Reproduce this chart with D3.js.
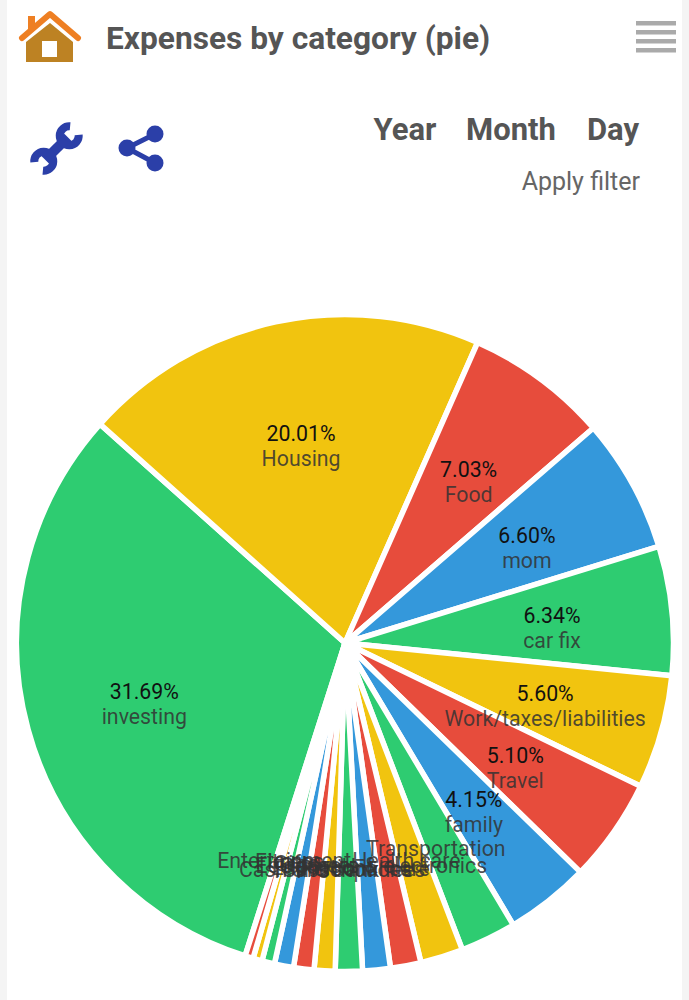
<!DOCTYPE html>
<html>
<head>
<meta charset="utf-8">
<script src="https://cdn.jsdelivr.net/npm/d3@7"></script>
<style>
  html, body { margin: 0; padding: 0; background: #fff; }
  text { font-family: Roboto, sans-serif; }
</style>
</head>
<body>
<div id="chart"></div>
<script>
// Slices, clockwise
const categories = ['investing', 'Housing', 'Food', 'mom', 'car fix', 'Work/taxes/liabilities', 'Travel', 'family',
  'Transportation', 'Health care', 'Gadgets & electronics', 'Personal care', 'Subscriptions', 'Cash and bank fees',
  'Education', 'Equipment', 'Gifts', 'Fitness', 'Entertainment'];
const percents = [31.69, 20.01, 7.03, 6.60, 6.34, 5.60, 5.10, 4.15,
  2.75, 2.10, 1.50, 1.36, 1.33, 1.03, 1.00, 0.94, 0.62, 0.45, 0.40];
const colors = ['#2ecc71', '#f1c40f', '#e74c3c', '#3498db'];
const filters = ['Year', 'Month', 'Day'];

const width = 689;
const height = 1000;
const cx = 345;
const cy = 643;
const radius = 328.5;
const labelRadius = 208;
const minPercentShown = 4; // small slices only get their name

const svg = d3.select('#chart').append('svg')
  .attr('width', width)
  .attr('height', height)
  .style('display', 'block');

// page edges
svg.append('rect').attr('width', 7).attr('height', height).attr('fill', '#f4f4f4');
svg.append('rect').attr('x', 682).attr('width', 7).attr('height', height).attr('fill', '#f4f4f4');

// home icon
const home = svg.append('g');
home.append('rect').attr('x', 28).attr('y', 16).attr('width', 7).attr('height', 14).attr('fill', '#ee7f23');
home.append('path').attr('d', 'M26,62V42L50,23L73,42V62Z').attr('fill', '#bd8223');
home.append('rect').attr('x', 42).attr('y', 41).attr('width', 15).attr('height', 16).attr('fill', '#fff');
home.append('path').attr('d', 'M22,38L50,14L78,38')
  .attr('fill', 'none').attr('stroke', '#ee7f23').attr('stroke-width', 6).attr('stroke-linecap', 'round').attr('stroke-linejoin', 'round');

svg.append('text').attr('x', 106).attr('y', 49)
  .attr('font-size', 31.7).attr('font-weight', 700).attr('fill', '#555')
  .text('Expenses by category (pie)');

// menu lines
svg.append('g').selectAll('rect').data(d3.range(4)).enter().append('rect')
  .attr('x', 636).attr('y', (d) => 21 + d * 9)
  .attr('width', 40).attr('height', 4.5).attr('fill', '#aaa');

// wrench
const blue = '#2b3fa8';
const jaw = d3.arc().innerRadius(5.5).outerRadius(13.5);
const wrench = svg.append('g').attr('transform', 'translate(56.5,148.5) rotate(45)');
wrench.append('rect').attr('x', -5).attr('y', -16).attr('width', 10).attr('height', 32).attr('fill', blue);
wrench.append('path').attr('transform', 'translate(0,-18)')
  .attr('d', jaw({ startAngle: Math.PI * 0.22, endAngle: Math.PI * 1.78 })).attr('fill', blue);
wrench.append('path').attr('transform', 'translate(0,18)')
  .attr('d', jaw({ startAngle: Math.PI * 1.22, endAngle: Math.PI * 2.78 })).attr('fill', blue);

// share
const sharePoints = [[155, 134], [127, 148], [155, 163]];
const share = svg.append('g');
share.append('polyline').attr('points', sharePoints.join(' '))
  .attr('fill', 'none').attr('stroke', blue).attr('stroke-width', 5);
share.selectAll('circle').data(sharePoints).enter().append('circle')
  .attr('cx', (d) => d[0]).attr('cy', (d) => d[1]).attr('r', 8.5).attr('fill', blue);

// filter row
const filterX = [405, 511, 613];
svg.append('g').selectAll('text').data(filters).enter().append('text')
  .attr('x', (d, i) => filterX[i]).attr('y', 140)
  .attr('text-anchor', 'middle')
  .attr('font-size', 31).attr('font-weight', 700).attr('fill', '#555')
  .text((d) => d);
svg.append('text').attr('x', 640).attr('y', 190).attr('text-anchor', 'end')
  .attr('font-size', 25).attr('fill', '#666').text('Apply filter');

// pie
const startAngle = 197.7 * Math.PI / 180;
const pie = d3.pie().sort(null).startAngle(startAngle).endAngle(startAngle + 2 * Math.PI);
const arcs = pie(percents);
const arc = d3.arc().innerRadius(0).outerRadius(radius);
const labelArc = d3.arc().innerRadius(labelRadius).outerRadius(labelRadius);

const chart = svg.append('g').attr('transform', `translate(${cx},${cy})`);

chart.selectAll('path').data(arcs).enter().append('path')
  .attr('d', arc)
  .attr('fill', (d, i) => colors[i % colors.length])
  .attr('stroke', '#fff')
  .attr('stroke-width', 5.5)
  .attr('stroke-linejoin', 'round');

const labels = chart.selectAll('g.label').data(arcs).enter().append('g')
  .attr('class', 'label')
  .attr('transform', (d) => `translate(${labelArc.centroid(d)})`)
  .attr('text-anchor', 'middle');

labels.filter((d) => d.value >= minPercentShown).append('text')
  .attr('y', 1)
  .attr('font-size', 21.3).attr('fill', '#111')
  .text((d) => d.value.toFixed(2) + '%');

labels.append('text')
  .attr('y', 26)
  .attr('font-size', 21.3).attr('fill', '#333').attr('fill-opacity', 0.85)
  .text((d, i) => categories[i]);
</script>
</body>
</html>
